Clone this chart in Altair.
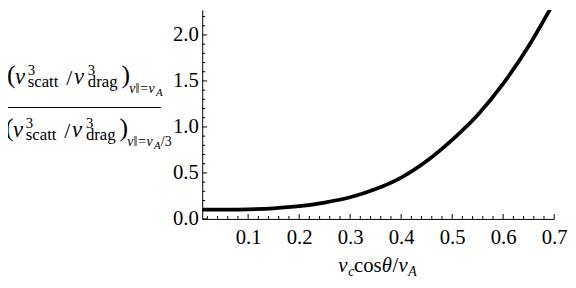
import altair as alt
import pandas as pd

# curve
x_vals = [0.01, 0.05, 0.1, 0.15, 0.2, 0.25, 0.3, 0.35, 0.4, 0.45, 0.5, 0.55, 0.6, 0.65, 0.7]
y_vals = [0.100, 0.101, 0.105, 0.116, 0.138, 0.178, 0.235, 0.325, 0.45, 0.63, 0.86, 1.13, 1.47, 1.88, 2.36]

x_major = [0.1, 0.2, 0.3, 0.4, 0.5, 0.6, 0.7]
x_minor = [round(0.02 * i, 2) for i in range(1, 35) if (i % 5) != 0]
y_major = [0.0, 0.5, 1.0, 1.5, 2.0]
y_minor = [round(0.1 * i, 1) for i in range(1, 23) if (i % 5) != 0]

X_DOM = [0.01, 0.7]
Y_DOM = [0.0, 2.272]
W, H = 357, 212
OX, OY = 205, 8  # plot origin in window coordinates

SERIF = "Liberation Serif, Tinos, Times New Roman, DejaVu Serif, serif"

curve = pd.DataFrame({"x": x_vals, "y": y_vals})
xs = alt.Scale(domain=X_DOM, nice=False, zero=False)
ys = alt.Scale(domain=Y_DOM, nice=False, zero=False)

line = alt.Chart(curve).mark_line(
    color="black", strokeWidth=3.8, clip=True, interpolate="monotone"
).encode(
    x=alt.X("x:Q", scale=xs,
            axis=alt.Axis(values=x_major, format=".1f", ticks=False, grid=False, title=None,
                          domainColor="black", domainWidth=1, labelFont=SERIF, labelFontSize=21,
                          labelColor="black", labelPadding=8, labelFlush=False)),
    y=alt.Y("y:Q", scale=ys,
            axis=alt.Axis(values=y_major, format=".1f", ticks=False, grid=False, title=None,
                          domainColor="black", domainWidth=1, labelFont=SERIF, labelFontSize=21,
                          labelColor="black", labelPadding=4, labelFlush=False)),
)


def xticks(vals, length):
    return alt.Chart(pd.DataFrame({"v": vals})).mark_rule(color="black", strokeWidth=1).encode(
        x=alt.X("v:Q", scale=xs), y=alt.value(H), y2=alt.value(H - length))


def yticks(vals, length):
    return alt.Chart(pd.DataFrame({"v": vals})).mark_rule(color="black", strokeWidth=1).encode(
        y=alt.Y("v:Q", scale=ys), x=alt.value(0), x2=alt.value(length))


def txt(s, xw, yw, size, italic=False):
    return alt.Chart(pd.DataFrame({"t": [s]})).mark_text(
        font=SERIF, fontSize=size, fontStyle="italic" if italic else "normal",
        align="left", baseline="alphabetic", color="black"
    ).encode(text="t:N", x=alt.value(xw - OX), y=alt.value(yw - OY))


def frac_part(dx, base, sub_parts):
    parts = [
        txt("(", 5 + dx, base + 0, 26),
        txt("ν", 13 + dx, base + 1, 23, True),
        txt("3", 26 + dx, base - 8, 15),
        txt("scatt", 26 + dx, base + 4, 17),
        txt("/", 65 + dx, base + 2, 22),
        txt("ν", 73 + dx, base + 1, 23, True),
        txt("3", 87 + dx, base - 8, 15),
        txt("drag", 87 + dx, base + 4, 17),
        txt(")", 121 + dx, base + 0, 26),
    ]
    return parts + sub_parts


num = frac_part(2, 82, [
    txt("ν‖=ν", 131, 92, 14, True),
    txt("A", 158, 95, 11, True),
])
den = frac_part(0, 136, [
    txt("ν‖=ν", 129, 146, 14, True),
    txt("A", 156, 149, 11, True),
    txt("/3", 163, 146, 14),
])

bar = alt.Chart(pd.DataFrame({"a": [0]})).mark_rule(color="black", strokeWidth=1).encode(
    x=alt.value(3 - OX), x2=alt.value(163 - OX), y=alt.value(107 - OY))

xtitle = [
    txt("ν", 343, 274, 21, True),
    txt("c", 353, 278, 14, True),
    txt("cos", 359, 274, 21),
    txt("θ", 387, 274, 21, True),
    txt("/", 398, 274, 21),
    txt("ν", 404, 274, 21, True),
    txt("A", 414, 278, 14, True),
]

chart = alt.layer(
    line, xticks(x_major, 5), xticks(x_minor, 3), yticks(y_major, 5), yticks(y_minor, 3),
    bar, *num, *den, *xtitle
).properties(
    width=W, height=H,
    padding={"left": OX - 8, "top": 0, "right": 14, "bottom": 60},
    autosize=alt.AutoSizeParams(type="none"),
).configure_view(stroke=None)

chart.save("out.html", embed_options={"renderer": "svg", "actions": False})
